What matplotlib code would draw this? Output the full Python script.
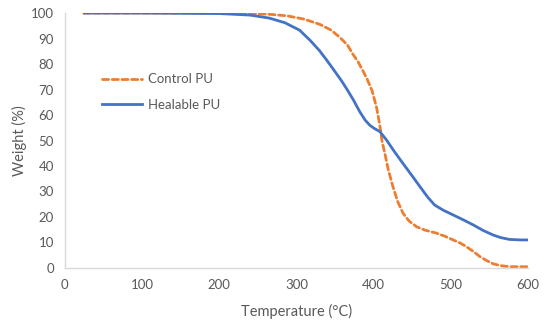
import matplotlib.pyplot as plt

plt.rcParams['font.family'] = ['Lato', 'DejaVu Sans']

# TGA curves
temp_control = [25, 150, 220, 250, 265, 288, 310, 330, 345, 356, 366, 373, 380, 386, 392,
                398, 404, 408, 411, 414.5, 419, 425, 431, 438, 446, 455.5, 467, 481,
                492, 503, 512, 520, 529, 538, 547, 555, 565, 576, 600]
weight_control = [100, 100, 99.9, 99.7, 99.5, 98.9, 97.6, 95.6, 93.3, 90.5, 87.5, 83.9,
                  80.8, 77.4, 73.8, 69.5, 62.7, 56, 49.5, 45, 38.5, 31.9, 26.2, 21.5,
                  18.4, 16.2, 14.8, 13.7, 12.5, 11, 9.8, 8.4, 6.5, 4.4, 2.8, 1.6, 0.9,
                  0.5, 0.5]

temp_heal = [25, 100, 200, 240, 265, 285, 304, 318, 330, 340, 350, 358, 365, 374, 382,
             389, 395, 401, 408, 416.7, 427, 438, 449, 460, 470, 479, 490, 503, 516,
             529, 542, 555, 565, 576, 590, 600]
weight_heal = [100, 100, 99.8, 99.2, 98, 96.2, 93.3, 89.2, 85.2, 81.2, 77, 73.6, 70.3,
               65.8, 61.3, 58, 56, 54.7, 53.5, 50.2, 45.6, 41, 36.5, 31.9, 27.8, 24.7,
               22.7, 20.8, 18.9, 16.9, 14.7, 12.9, 11.9, 11.2, 11, 11]

gray = '#595959'

fig = plt.figure(figsize=(5.5, 3.26), dpi=100)
ax = fig.add_axes([0.118, 0.178, 0.842, 0.782])

ax.plot(temp_control, weight_control, color='#ED7D31', lw=2, linestyle=(0, (2.2, 1.3)),
        dash_capstyle='round', label='Control PU')
ax.plot(temp_heal, weight_heal, color='#4472C4', lw=2, label='Healable PU')

ax.set_xlim(0, 600)
ax.set_ylim(0, 100)
ax.set_xticks(range(0, 601, 100))
ax.set_yticks(range(0, 101, 10))
ax.tick_params(length=0, labelsize=9.5, labelcolor=gray, pad=8)

for s in ['top', 'right']:
    ax.spines[s].set_visible(False)
for s in ['left', 'bottom']:
    ax.spines[s].set_color('#d9d9d9')
    ax.spines[s].set_linewidth(1)

ax.set_xlabel('Temperature (°C)', fontsize=10.5, color=gray, labelpad=9)
ax.set_ylabel('Weight (%)', fontsize=10.5, color=gray, labelpad=3)

ax.legend(loc='upper left', bbox_to_anchor=(0.055, 0.81), frameon=False,
          fontsize=9.5, labelcolor=gray, handlelength=3, handletextpad=0.5,
          labelspacing=1.0)

fig.savefig('out.png', dpi=100)
